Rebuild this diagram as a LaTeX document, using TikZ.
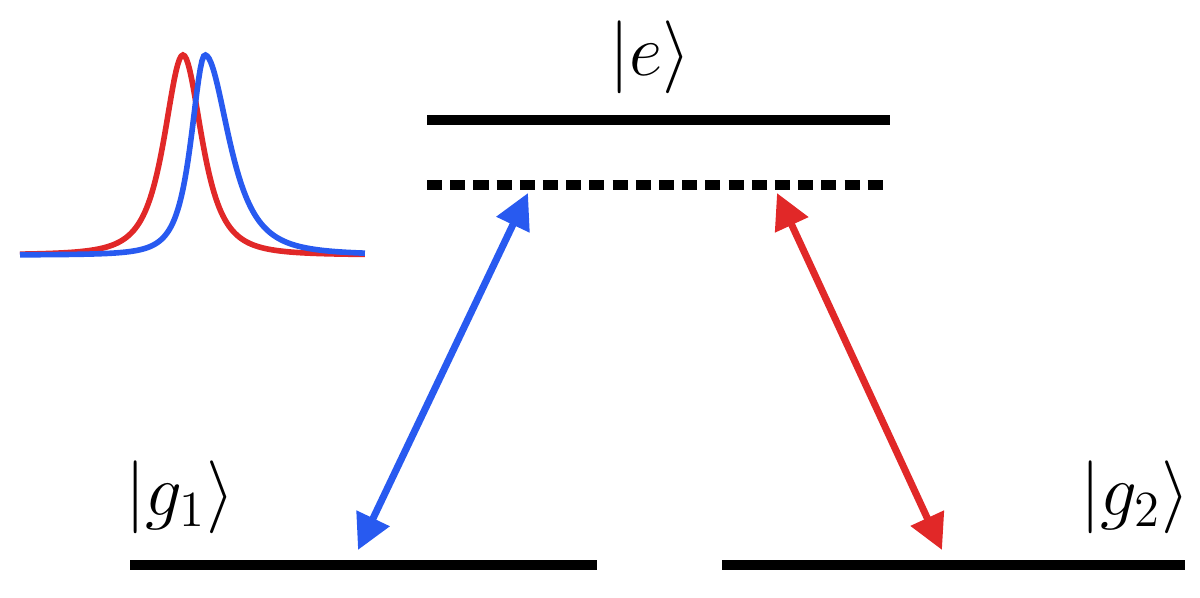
\documentclass[tikz,border=0pt]{standalone}
\usepackage{amsmath}
\usetikzlibrary{arrows.meta}
\definecolor{myblue}{RGB}{40,90,240}
\definecolor{myred}{RGB}{225,40,40}
\begin{document}
\begin{tikzpicture}[level/.style={line width=2.8pt},
                    every node/.style={font=\fontsize{22}{26}\selectfont},
                    trans/.style={line width=2pt, {Triangle[length=10pt,width=10pt]}-{Triangle[length=10pt,width=10pt]}}]
                    \useasboundingbox (0,0) rectangle (12,5.97);

                    % Define levels
                    \coordinate (EL) at (4.27,4.77); \coordinate (ER) at (8.90,4.77); % Excited
                    \coordinate (VL) at (4.27,4.12); \coordinate (VR) at (8.90,4.12); % Virtual
                    \coordinate (AL) at (1.30,0.32); \coordinate (AR) at (5.97,0.32); % g1
                    \coordinate (BL) at (7.22,0.32); \coordinate (BR) at (11.85,0.32); % g2
                    \draw[level] (EL) -- (ER);
                    \draw[level, dash pattern=on 4.3pt off 2.3pt] (VL) -- (VR);
                    \draw[level] (AL) -- (AR);
                    \draw[level] (BL) -- (BR);

                    % Define labels
                    \node (e) at (6.50,5.40) {$|e\rangle$};
                    \node (g1) at (1.80,1.00) {$|g_1\rangle$};
                    \node (g2) at (11.35,1.00) {$|g_2\rangle$};

                    % Define transitions
                    \coordinate (b1) at (3.58,0.47); \coordinate (b2) at (5.28,4.04);
                    \coordinate (r1) at (9.42,0.47); \coordinate (r2) at (7.77,4.04);
                    \draw[trans, myblue] (b1) -- (b2);
                    \draw[trans, myred] (r1) -- (r2);

                    % Define pulses
                    \draw[myred, line width=1.6pt, domain=0.2:3.65, samples=200]
                      plot (\x, {3.42+2.0/(1+((\x-1.83)/0.3)^2)^1.6});
                    \draw[myblue, line width=1.6pt, domain=0.2:3.65, samples=200]
                      plot (\x, {3.42+2.0/(1+((\x-2.05)/(\x<2.05 ? 0.22 : 0.38))^2)^1.6});
                \end{tikzpicture}
\end{document}
